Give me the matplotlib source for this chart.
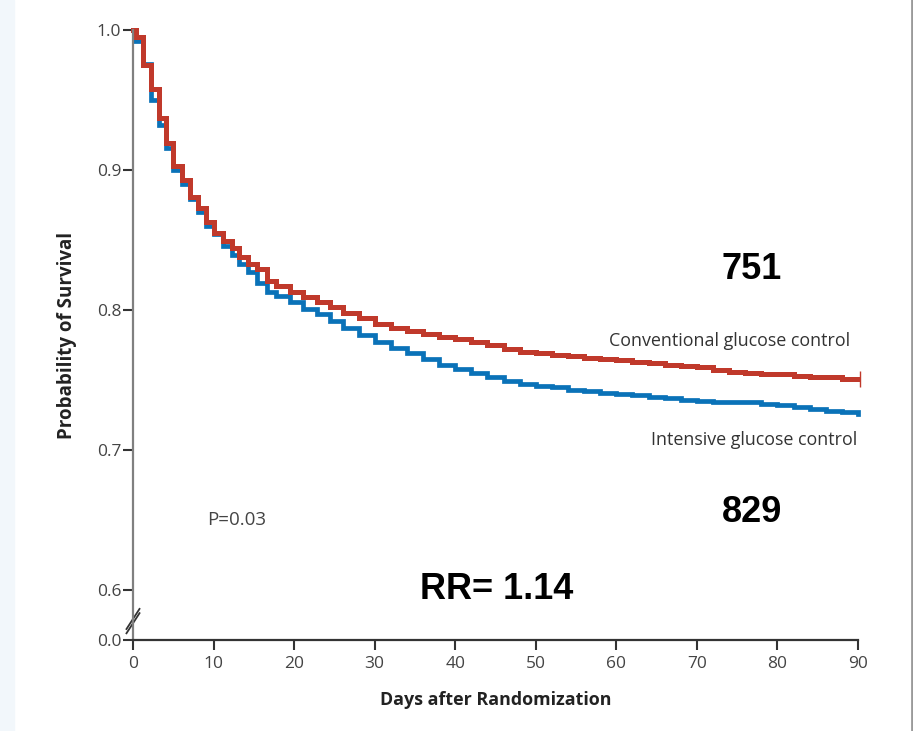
import matplotlib
matplotlib.use("Agg")
import matplotlib.pyplot as plt
from matplotlib.patches import Rectangle
from matplotlib.lines import Line2D

# Kaplan-Meier steps (day, survival)
conv_days = [0, 0.4, 1.2, 2.2, 3.2, 4.1, 5.0, 6.1, 7.1, 8.1, 9.1, 10.1, 11.2, 12.3,
             13.2, 14.3, 15.4, 16.6, 17.8, 19.5, 21.1, 22.8, 24.5, 26.1, 28, 30, 32,
             34, 36, 38, 40, 42, 44, 46, 48, 50, 52, 54, 56, 58, 60, 62, 64, 66, 68,
             70, 72, 74, 76, 78, 80, 82, 84, 86, 88, 90]
conv_surv = [1.0, 0.995, 0.975, 0.958, 0.937, 0.919, 0.903, 0.893, 0.881, 0.873,
             0.863, 0.855, 0.849, 0.844, 0.838, 0.833, 0.829, 0.821, 0.817, 0.813,
             0.809, 0.806, 0.802, 0.798, 0.794, 0.790, 0.787, 0.785, 0.783, 0.781,
             0.779, 0.777, 0.775, 0.772, 0.770, 0.769, 0.768, 0.767, 0.766, 0.765,
             0.764, 0.763, 0.762, 0.761, 0.760, 0.759, 0.757, 0.756, 0.755, 0.754,
             0.754, 0.753, 0.752, 0.752, 0.751, 0.751]

int_days = [0, 0.2, 1.2, 2.2, 3.2, 4.1, 5.0, 6.1, 7.1, 8.1, 9.1, 10.1, 11.2, 12.3,
            13.2, 14.3, 15.4, 16.6, 17.8, 19.5, 21.1, 22.8, 24.5, 26.1, 28, 30, 32,
            34, 36, 38, 40, 42, 44, 46, 48, 50, 52, 54, 56, 58, 60, 62, 64, 66, 68,
            70, 72, 74, 76, 78, 80, 82, 84, 86, 88, 90]
int_surv = [1.0, 0.992, 0.976, 0.950, 0.932, 0.916, 0.900, 0.890, 0.879, 0.870,
            0.860, 0.854, 0.846, 0.839, 0.833, 0.827, 0.819, 0.813, 0.810, 0.806,
            0.801, 0.797, 0.792, 0.787, 0.782, 0.777, 0.773, 0.769, 0.765, 0.761,
            0.758, 0.755, 0.752, 0.749, 0.747, 0.746, 0.745, 0.743, 0.742, 0.741,
            0.740, 0.739, 0.738, 0.737, 0.736, 0.735, 0.734, 0.734, 0.734, 0.733,
            0.732, 0.731, 0.729, 0.728, 0.727, 0.726]

x_ticks = [0, 10, 20, 30, 40, 50, 60, 70, 80, 90]
y_ticks = [0.6, 0.7, 0.8, 0.9, 1.0]
y_floor = 0.6 - 50 / 1400  # where "0.0" sits below the axis break

RED = "#c0392b"
BLUE = "#0a72b8"
GREY_TXT = "#444444"

fig = plt.figure(figsize=(9.13, 7.31), dpi=100)
fig.patches.append(Rectangle((0, 0), 14 / 913, 1, transform=fig.transFigure,
                             color="#f2f7fb", zorder=-10))
fig.lines.append(Line2D([911.5 / 913] * 2, [0, 1], transform=fig.transFigure,
                        color="#9a9a9a", lw=2))

ax = fig.add_axes([133 / 913, 91 / 731, 725 / 913, 610 / 731])

ax.step(int_days, int_surv, where="post", color=BLUE, lw=3.4, clip_on=False,
        solid_joinstyle="miter")
ax.step(conv_days, conv_surv, where="post", color=RED, lw=3.6, clip_on=False,
        solid_joinstyle="miter")
ax.plot([conv_days[-1] + 0.3], [conv_surv[-1]], marker="|", color=RED, ms=12,
        mew=1.0, clip_on=False)

ax.set_xlim(0, 90)
ax.set_ylim(y_floor, 1.0)
ax.set_xticks(x_ticks)
ax.set_yticks([y_floor] + y_ticks)
ax.set_yticklabels(["0.0"] + ["%.1f" % v for v in y_ticks])

for s in ["top", "right"]:
    ax.spines[s].set_visible(False)
ax.spines["left"].set_color("#808080")
ax.spines["left"].set_linewidth(1.6)
ax.spines["bottom"].set_color("#333333")
ax.spines["bottom"].set_linewidth(1.6)

ax.tick_params(axis="y", length=7.5, width=1.5, color="#333333", pad=1,
               labelsize=12.5, labelcolor=GREY_TXT)
ax.tick_params(axis="x", length=7.5, width=1.5, color="#333333", pad=4,
               labelsize=12.5, labelcolor=GREY_TXT)
for lab in ax.get_xticklabels() + ax.get_yticklabels():
    lab.set_family("Open Sans")

# axis break marks on the left spine
for off in (-0.007, 0.0):
    ax.plot([-0.009, 0.009], [0.018 + off, 0.051 + off],
            transform=ax.transAxes, color="#333333", lw=1.3, clip_on=False)

ax.set_ylabel("Probability of Survival", family="Open Sans", fontsize=13.5,
              fontweight="bold", color="#222222", labelpad=14)
ax.set_xlabel("Days after Randomization", family="Open Sans", fontsize=12.9,
              fontweight="bold", color="#222222", labelpad=14)

ax.text(89.0, 0.778, "Conventional glucose control", family="Open Sans",
        fontsize=12.9, color="#333333", ha="right", va="center")
ax.text(89.9, 0.7071, "Intensive glucose control", family="Open Sans",
        fontsize=12.9, color="#333333", ha="right", va="center")
ax.text(12.9, 0.65, "P=0.03", family="Open Sans", fontsize=13.5,
        color=GREY_TXT, ha="center", va="center")

ax.text(76.8, 0.8286, "751", family="Liberation Sans", fontsize=26,
        fontweight="bold", color="black", ha="center", va="center")
ax.text(76.8, 0.6557, "829", family="Liberation Sans", fontsize=26,
        fontweight="bold", color="black", ha="center", va="center")
ax.text(45.2, 0.6, "RR= 1.14", family="Liberation Sans", fontsize=26,
        fontweight="bold", color="black", ha="center", va="center")

fig.savefig("out.png", dpi=100)
